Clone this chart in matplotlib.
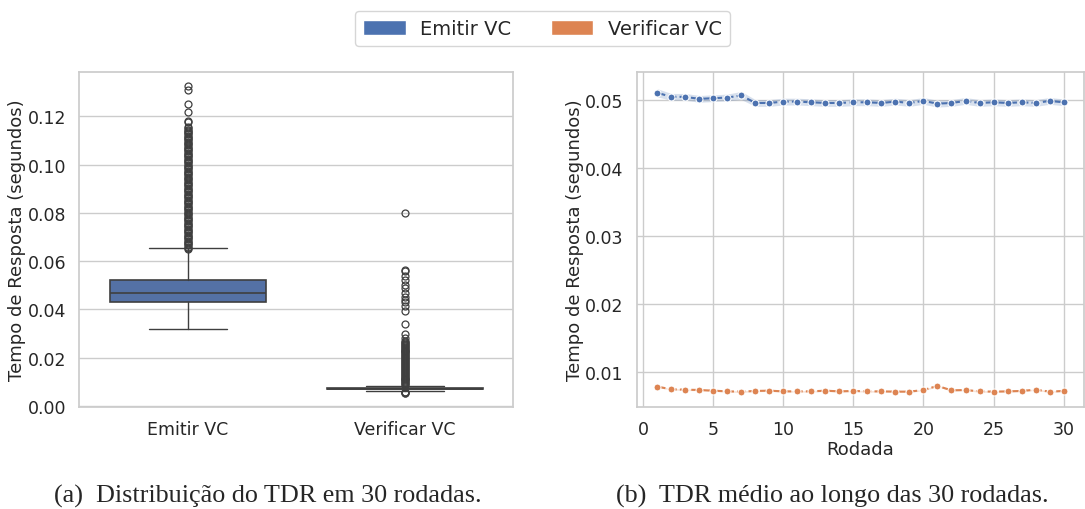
import matplotlib
matplotlib.use("Agg")
import matplotlib.pyplot as plt
import seaborn as sns
from matplotlib.patches import Patch

# ---- dados ----
categorias = ["Emitir VC", "Verificar VC"]

# estatísticas do boxplot (segundos)
q1 = [0.0430, 0.0070]
mediana = [0.0470, 0.0072]
q3 = [0.0520, 0.0075]
bigode_inf = [0.0320, 0.0061]
bigode_sup = [0.0655, 0.0085]

outliers_emitir = [
    0.0650, 0.0655, 0.0660, 0.0665, 0.0670, 0.0675, 0.0680, 0.0685, 0.0690,
    0.0695, 0.0700, 0.0705, 0.0710, 0.0715, 0.0720, 0.0725, 0.0730, 0.0735,
    0.0740, 0.0745, 0.0750, 0.0755, 0.0760, 0.0765, 0.0770, 0.0775, 0.0780,
    0.0785, 0.0790, 0.0795, 0.0800, 0.0805, 0.0810, 0.0815, 0.0820, 0.0825,
    0.0830, 0.0835, 0.0840, 0.0845, 0.0850, 0.0855, 0.0860, 0.0865, 0.0870,
    0.0875, 0.0880, 0.0885, 0.0890, 0.0895, 0.0900, 0.0905, 0.0910, 0.0915,
    0.0920, 0.0925, 0.0930, 0.0935, 0.0940, 0.0945, 0.0950, 0.0955, 0.0960,
    0.0965, 0.0970, 0.0975, 0.0980, 0.0985, 0.0990, 0.0995, 0.1000, 0.1005,
    0.1010, 0.1015, 0.1020, 0.1025, 0.1030, 0.1035, 0.1040, 0.1045, 0.1050,
    0.1055, 0.1060, 0.1065, 0.1070, 0.1075, 0.1080, 0.1085, 0.1090, 0.1095,
    0.1100, 0.1105, 0.1110, 0.1115, 0.1120, 0.1125, 0.1130, 0.1135, 0.1140,
    0.1145, 0.1150, 0.1155, 0.1175, 0.1180, 0.1220, 0.1250, 0.1310, 0.1325,
]
outliers_verificar = [
    0.0053, 0.0055, 0.0057, 0.0059,
    0.0086, 0.0090, 0.0094, 0.0098, 0.0102, 0.0106, 0.0110, 0.0114, 0.0118,
    0.0122, 0.0126, 0.0130, 0.0134, 0.0138, 0.0142, 0.0146, 0.0150, 0.0154,
    0.0158, 0.0162, 0.0166, 0.0170, 0.0174, 0.0178, 0.0182, 0.0186, 0.0190,
    0.0194, 0.0198, 0.0202, 0.0206, 0.0210, 0.0214, 0.0218, 0.0222, 0.0226,
    0.0230, 0.0234, 0.0238, 0.0242, 0.0246, 0.0250, 0.0254, 0.0258, 0.0262,
    0.0266, 0.0270, 0.0280, 0.0300, 0.0340, 0.0395, 0.0415, 0.0430, 0.0440,
    0.0450, 0.0470, 0.0490, 0.0500, 0.0520, 0.0540, 0.0560, 0.0565, 0.0800,
]

# média por rodada (segundos)
rodadas = list(range(1, 31))
media_emitir = [
    0.0510, 0.0504, 0.0504, 0.0501, 0.0502, 0.0503, 0.0506, 0.0495, 0.0495,
    0.0497, 0.0497, 0.0496, 0.0495, 0.0495, 0.0496, 0.0496, 0.0495, 0.0497,
    0.0495, 0.0498, 0.0494, 0.0495, 0.0498, 0.0495, 0.0496, 0.0495, 0.0496,
    0.0495, 0.0498, 0.0496,
]
media_verificar = [
    0.0078, 0.0074, 0.00735, 0.0073, 0.0072, 0.0071, 0.00706, 0.00716, 0.0072,
    0.0071, 0.0071, 0.0071, 0.0072, 0.0071, 0.00716, 0.0071, 0.0071, 0.00706,
    0.00706, 0.0073, 0.0079, 0.00725, 0.0073, 0.0071, 0.00706, 0.0071,
    0.00716, 0.00735, 0.00706, 0.00716,
]
# meia largura do intervalo de confiança
ic_emitir = [0.0006, 0.0005, 0.0005, 0.0005, 0.0005, 0.0005, 0.0006] + [0.0005] * 23
ic_verificar = [0.00012] * 30

azul = "#4c72b0"
laranja = "#dd8452"
cinza = "#3f3f3f"

sns.set_theme(style="whitegrid")
plt.rcParams["font.family"] = ["DejaVu Sans"]

fig = plt.figure(figsize=(10.85, 5.10), dpi=100)
ax1 = fig.add_axes([0.073, 0.2, 0.400, 0.6575])
ax2 = fig.add_axes([0.587, 0.2, 0.412, 0.6575])

# --- Gráfico 1: boxplot ---
stats = []
fliers = [outliers_emitir, outliers_verificar]
for i, nome in enumerate(categorias):
    stats.append({
        "label": nome, "q1": q1[i], "med": mediana[i], "q3": q3[i],
        "whislo": bigode_inf[i], "whishi": bigode_sup[i], "fliers": fliers[i],
    })
bp = ax1.bxp(stats, positions=[0, 1], widths=0.72, capwidths=0.36,
             patch_artist=True,
             boxprops=dict(edgecolor=cinza, linewidth=1.2),
             medianprops=dict(color=cinza, linewidth=1.2),
             whiskerprops=dict(color=cinza, linewidth=1),
             capprops=dict(color=cinza, linewidth=1),
             flierprops=dict(marker="o", markerfacecolor="none",
                             markeredgecolor=cinza, markersize=5,
                             markeredgewidth=0.9))
cores_box = ["#5471a5", "#c98a5f"]
for patch, c in zip(bp["boxes"], cores_box):
    patch.set_facecolor(c)
ax1.set_xlim(-0.5, 1.5)
ax1.set_ylim(-0.0004, 0.1385)
ax1.set_yticks([0.0, 0.02, 0.04, 0.06, 0.08, 0.10, 0.12])
ax1.set_yticklabels(["0.00", "0.02", "0.04", "0.06", "0.08", "0.10", "0.12"])
ax1.xaxis.grid(False)
ax1.set_ylabel("Tempo de Resposta (segundos)", fontsize=13, labelpad=1)
ax1.tick_params(labelsize=12.5)

# --- Gráfico 2: média por rodada ---
for y, ic, c in [(media_emitir, ic_emitir, azul), (media_verificar, ic_verificar, laranja)]:
    lo = [v - e for v, e in zip(y, ic)]
    hi = [v + e for v, e in zip(y, ic)]
    ax2.fill_between(rodadas, lo, hi, color=c, alpha=0.22, linewidth=0)
    ax2.plot(rodadas, y, color=c, linestyle=(0, (4, 1.5)), linewidth=1.5,
             marker="o", markersize=5, markeredgecolor="white",
             markeredgewidth=0.75)
ax2.set_xlim(-0.45, 31.45)
ax2.set_ylim(0.0048, 0.0541)
ax2.set_xticks([0, 5, 10, 15, 20, 25, 30])
ax2.set_yticks([0.01, 0.02, 0.03, 0.04, 0.05])
ax2.set_xlabel("Rodada", fontsize=13, labelpad=1)
ax2.set_ylabel("Tempo de Resposta (segundos)", fontsize=13, labelpad=1)
ax2.tick_params(labelsize=12.5)

for ax in (ax1, ax2):
    for s in ax.spines.values():
        s.set_color("#cccccc")

# legenda
handles = [Patch(facecolor=azul, label=categorias[0]),
           Patch(facecolor=laranja, label=categorias[1])]
fig.legend(handles=handles, loc="upper center", bbox_to_anchor=(0.5, 0.995),
           ncol=2, fontsize=14, frameon=True, columnspacing=2.0,
           handlelength=2.2, handleheight=0.85, handletextpad=0.75)

# legendas das subfiguras
fig.text(0.247, 0.014, "(a)  Distribuição do TDR em 30 rodadas.",
         ha="center", va="baseline", fontsize=18.8, family="Liberation Serif")
fig.text(0.767, 0.014, "(b)  TDR médio ao longo das 30 rodadas.",
         ha="center", va="baseline", fontsize=18.8, family="Liberation Serif")

fig.savefig("out.png", dpi=100)
